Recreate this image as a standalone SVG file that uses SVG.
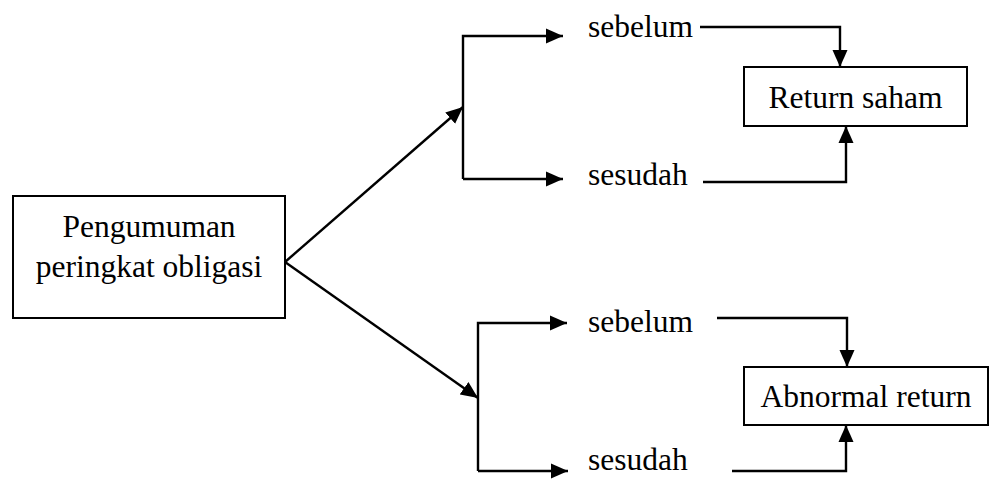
<svg xmlns="http://www.w3.org/2000/svg" width="990" height="479" viewBox="0 0 990 479">
<style>
.box{fill:#fff;stroke:#000;stroke-width:2}
.t{font-family:"Liberation Serif","Times New Roman",serif;font-size:31.5px;fill:#000}
.c{fill:none;stroke:#000;stroke-width:2.4}
</style>
<defs>
<marker id="ah" markerUnits="userSpaceOnUse" markerWidth="17" markerHeight="16" viewBox="0 0 17 16" refX="17" refY="8" orient="auto">
<path d="M0,0.5 L17,8 L0,15.5 Z" fill="#000"/>
</marker>
</defs>
<rect width="990" height="479" fill="#fff"/>
<g id="connectors">
<path class="c" d="M285,262 L463,107" marker-end="url(#ah)"/>
<path class="c" d="M463,179 L463,36 L563,36" marker-end="url(#ah)"/>
<path class="c" d="M463,179 L563,179" marker-end="url(#ah)"/>
<path class="c" d="M285,262 L478,398" marker-end="url(#ah)"/>
<path class="c" d="M478,471 L478,323 L567,323" marker-end="url(#ah)"/>
<path class="c" d="M478,471 L568,471" marker-end="url(#ah)"/>
<path class="c" d="M700,27 L840,27 L840,67" marker-end="url(#ah)"/>
<path class="c" d="M703,182 L846,182 L846,126" marker-end="url(#ah)"/>
<path class="c" d="M717,318 L847,318 L847,367" marker-end="url(#ah)"/>
<path class="c" d="M732,471 L846,471 L846,425" marker-end="url(#ah)"/>
</g>
<g id="pengumuman">
<rect class="box" x="13" y="196" width="272" height="122"/>
<text class="t" x="149" y="237" text-anchor="middle">Pengumuman</text>
<text class="t" x="149" y="277" text-anchor="middle">peringkat obligasi</text>
</g>
<g id="sebelum1"><text class="t" x="588" y="37">sebelum</text></g>
<g id="sesudah1"><text class="t" x="588" y="185">sesudah</text></g>
<g id="return-saham">
<rect class="box" x="744" y="67" width="223" height="59"/>
<text class="t" x="855.5" y="108" text-anchor="middle">Return saham</text>
</g>
<g id="sebelum2"><text class="t" x="588" y="332">sebelum</text></g>
<g id="sesudah2"><text class="t" x="588" y="470">sesudah</text></g>
<g id="abnormal-return">
<rect class="box" x="744" y="367" width="244" height="58"/>
<text class="t" x="866" y="407" text-anchor="middle">Abnormal return</text>
</g>
</svg>
